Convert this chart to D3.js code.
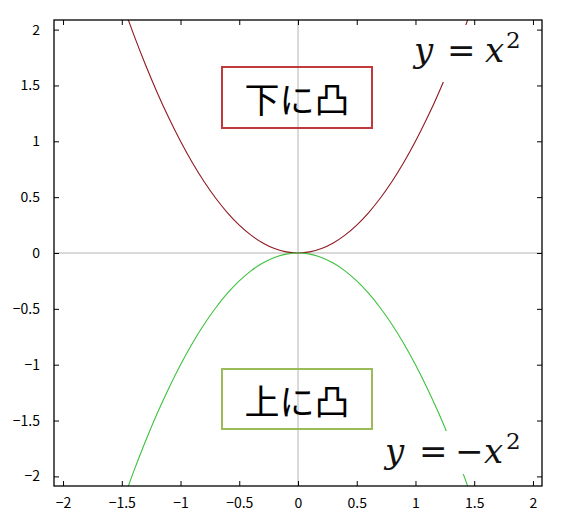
<!DOCTYPE html>
<html><head><meta charset="utf-8">
<script src="https://cdn.jsdelivr.net/npm/d3@7"></script>
<style>body{margin:0;background:#fff;}svg{display:block;}</style>
</head><body>
<svg id="c" width="569" height="519"></svg>
<script>
// data
const xs = [-1.5,-1.4,-1.3,-1.2,-1.1,-1.0,-0.9,-0.8,-0.7,-0.6,-0.5,-0.4,-0.3,-0.2,-0.1,0,0.1,0.2,0.3,0.4,0.5,0.6,0.7,0.8,0.9,1.0,1.1,1.2,1.3,1.4,1.5];
const upperY = [2.25,1.96,1.69,1.44,1.21,1.0,0.81,0.64,0.49,0.36,0.25,0.16,0.09,0.04,0.01,0,0.01,0.04,0.09,0.16,0.25,0.36,0.49,0.64,0.81,1.0,1.21,1.44,1.69,1.96,2.25];
const lowerY = [-2.25,-1.96,-1.69,-1.44,-1.21,-1.0,-0.81,-0.64,-0.49,-0.36,-0.25,-0.16,-0.09,-0.04,-0.01,0,-0.01,-0.04,-0.09,-0.16,-0.25,-0.36,-0.49,-0.64,-0.81,-1.0,-1.21,-1.44,-1.69,-1.96,-2.25];
const tickValues = [-2,-1.5,-1,-0.5,0,0.5,1,1.5,2];
const boxLabels = ["下に凸","上に凸"];

const svg = d3.select("#c");
const L=54, R=542, T=20, B=486;
const x = d3.scaleLinear().domain([-2.077,2.077]).range([L,R]);
const y = d3.scaleLinear().domain([-2.086,2.086]).range([B,T]);

svg.append("defs").append("clipPath").attr("id","clip")
  .append("rect").attr("x",L).attr("y",T).attr("width",R-L).attr("height",B-T);

// zero lines
svg.append("line").attr("x1",x(0)).attr("x2",x(0)).attr("y1",T).attr("y2",B).attr("stroke","#b4b4b4").attr("stroke-width",1);
svg.append("line").attr("x1",L).attr("x2",R).attr("y1",y(0)).attr("y2",y(0)).attr("stroke","#b4b4b4").attr("stroke-width",1);

const line = d3.line().x(d=>x(d[0])).y(d=>y(d[1])).curve(d3.curveCatmullRom);
const g = svg.append("g").attr("clip-path","url(#clip)");
g.append("path").datum(xs.map((v,i)=>[v,upperY[i]])).attr("d",line).attr("fill","none").attr("stroke","#8e1a22").attr("stroke-width",1.1);
g.append("path").datum(xs.map((v,i)=>[v,lowerY[i]])).attr("d",line).attr("fill","none").attr("stroke","#3dc13d").attr("stroke-width",1.1);

// axes with inward ticks on all sides
const fmt = d => d<0 ? "\u2212"+Math.abs(d) : String(d);
const font = "'Noto Sans CJK JP', 'DejaVu Sans', sans-serif";
function styleAxis(sel, showText){
  sel.select(".domain").remove();
  sel.selectAll(".tick line").attr("stroke","#000").attr("stroke-width",1);
  sel.selectAll(".tick text").attr("font-family",font).attr("font-size",14).attr("fill","#000");
  if(!showText) sel.selectAll(".tick text").remove();
}
const ab = svg.append("g").attr("transform",`translate(0,${B})`)
  .call(d3.axisBottom(x).tickValues(tickValues).tickFormat(fmt).tickSizeInner(-5).tickSizeOuter(0).tickPadding(12));
styleAxis(ab,true);
const at = svg.append("g").attr("transform",`translate(0,${T})`)
  .call(d3.axisTop(x).tickValues(tickValues).tickSizeInner(-5).tickSizeOuter(0));
styleAxis(at,false);
const al = svg.append("g").attr("transform",`translate(${L},0)`)
  .call(d3.axisLeft(y).tickValues(tickValues).tickFormat(fmt).tickSizeInner(-5).tickSizeOuter(0).tickPadding(14));
styleAxis(al,true);
const ar = svg.append("g").attr("transform",`translate(${R},0)`)
  .call(d3.axisRight(y).tickValues(tickValues).tickSizeInner(-5).tickSizeOuter(0));
styleAxis(ar,false);

svg.append("rect").attr("x",L).attr("y",T).attr("width",R-L).attr("height",B-T)
  .attr("fill","none").attr("stroke","#000").attr("stroke-width",1.3);

// formula labels with white backgrounds
function formula(baseline, parts, bg){
  svg.append("rect").attr("x",bg[0]).attr("y",bg[1]).attr("width",bg[2]).attr("height",bg[3]).attr("fill","#fff");
  const t = svg.append("text").attr("font-family","'DejaVu Serif', 'Liberation Serif', serif").attr("fill","#111");
  parts.forEach(p=>{
    t.append("tspan").attr("x",p.x).attr("y",baseline+(p.dy||0))
     .attr("font-size",p.s).attr("font-style",p.i?"italic":"normal").text(p.t);
  });
}
formula(62,[
  {t:"y",x:414,s:34,i:true},
  {t:"=",x:447,s:34},
  {t:"x",x:485,s:34,i:true},
  {t:"2",x:506,s:23,dy:-14}
],[405,25,125,57]);
formula(463,[
  {t:"y",x:385,s:34,i:true},
  {t:"=",x:419,s:34},
  {t:"\u2212",x:455,s:34},
  {t:"x",x:484,s:34,i:true},
  {t:"2",x:506,s:23,dy:-14}
],[378,431,152,43]);

// boxed labels
function box(x0,y0,w,h,col,label){
  svg.append("rect").attr("x",x0).attr("y",y0).attr("width",w).attr("height",h)
    .attr("fill","none").attr("stroke",col).attr("stroke-width",2);
  svg.append("text").attr("x",x0+w/2).attr("y",y0+h/2).attr("text-anchor","middle")
    .attr("dominant-baseline","central").attr("font-family","'Noto Sans CJK JP', sans-serif")
    .attr("font-size",35).attr("fill","#000").text(label);
}
box(222,67,150,61,"#c0393b",boxLabels[0]);
box(222,369,150,60,"#9bbb59",boxLabels[1]);
</script>
</body></html>
